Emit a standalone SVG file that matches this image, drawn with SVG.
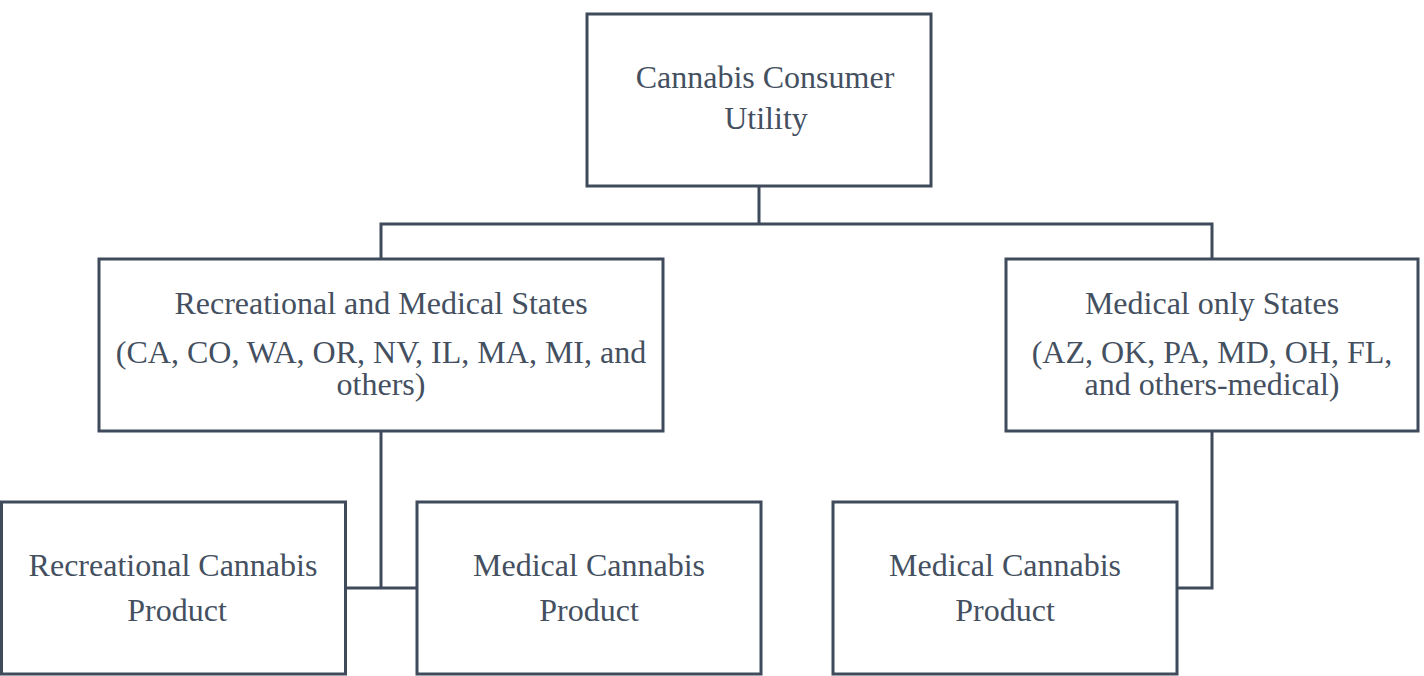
<svg xmlns="http://www.w3.org/2000/svg" width="1424" height="676" viewBox="0 0 1424 676">
<style>
.box{fill:#fff;stroke:#3f4b5b;stroke-width:3}
.conn{fill:none;stroke:#3f4b5b;stroke-width:3}
text{font-family:"Liberation Serif","Times New Roman",serif;font-size:32px;fill:#44505f;text-anchor:middle}
</style>
<rect width="1424" height="676" fill="#fff"/>
<g id="connectors">
<path class="conn" d="M759 186V224M381 259V224H1212V259"/>
<path class="conn" d="M381 431V588M345 588H417"/>
<path class="conn" d="M1212 431V588H1177"/>
</g>
<g id="root">
<rect class="box" x="587" y="14" width="344" height="172"/>
<text x="765" y="88">Cannabis Consumer</text>
<text x="766" y="129">Utility</text>
</g>
<g id="rec-med-states">
<rect class="box" x="99" y="259" width="564" height="172"/>
<text x="381" y="314">Recreational and Medical States</text>
<text x="381" y="363">(CA, CO, WA, OR, NV, IL, MA, MI, and</text>
<text x="381" y="395">others)</text>
</g>
<g id="med-only-states">
<rect class="box" x="1006" y="259" width="412" height="172"/>
<text x="1212" y="314">Medical only States</text>
<text x="1212" y="363">(AZ, OK, PA, MD, OH, FL,</text>
<text x="1212" y="395">and others-medical)</text>
</g>
<g id="rec-product">
<rect class="box" x="1.5" y="502" width="344" height="172"/>
<text x="173" y="576">Recreational Cannabis</text>
<text x="177" y="621">Product</text>
</g>
<g id="med-product-1">
<rect class="box" x="417" y="502" width="344" height="172"/>
<text x="589" y="576">Medical Cannabis</text>
<text x="589" y="621">Product</text>
</g>
<g id="med-product-2">
<rect class="box" x="833" y="502" width="344" height="172"/>
<text x="1005" y="576">Medical Cannabis</text>
<text x="1005" y="621">Product</text>
</g>
</svg>
